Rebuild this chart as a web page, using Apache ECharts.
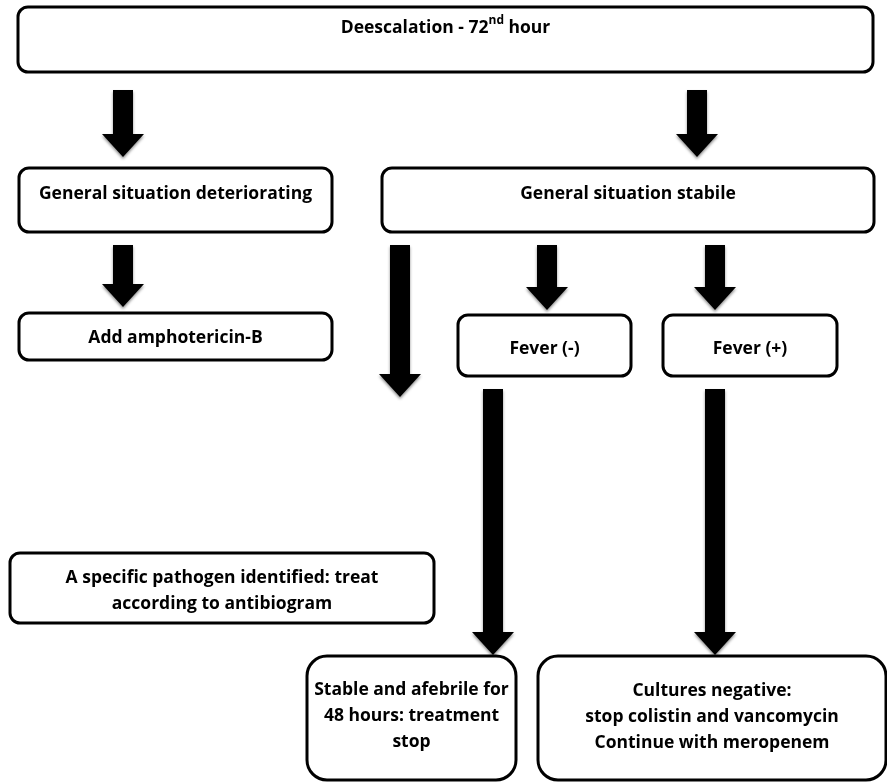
<!DOCTYPE html>
<html>
<head>
<meta charset="utf-8">
<script src="https://cdn.jsdelivr.net/npm/echarts@6/dist/echarts.min.js"></script>
<style>html,body{margin:0;padding:0;background:#fff}#c{width:887px;height:782px}</style>
</head>
<body>
<div id="c"></div>
<script>
// Flowchart content
const nodeText = [
  ['Deescalation - 72{sup|nd} hour'],
  ['General situation deteriorating'],
  ['General situation stabile'],
  ['Add amphotericin-B'],
  ['Fever (-)'],
  ['Fever (+)'],
  ['A specific pathogen identified: treat', 'according to antibiogram'],
  ['Stable and afebrile for', '48 hours: treatment', 'stop'],
  ['Cultures negative:', 'stop colistin and vancomycin', 'Continue with meropenem']
];
// layout: x0, y0, x1, y1, text centre y (in chart units)
const nodeLayout = [
  [18, 7, 873, 72, 28],
  [19, 168, 332, 232, 194],
  [382, 168, 874, 232, 194],
  [19, 313, 332, 360, 338],
  [458, 315, 631, 376, 349],
  [663, 315, 837, 376, 349],
  [10, 553, 434, 623, 591],
  [307, 656, 516, 780, 716],
  [538, 656, 886, 780, 717]
];
const nodeRadius = [10, 10, 10, 10, 10, 10, 10, 20, 20];
// arrows: x, yStart, yEnd (tip)
const arrowLinks = [
  [123, 90, 157],
  [697, 90, 157],
  [123, 245, 307],
  [400, 245, 397],
  [547, 245, 310],
  [715, 245, 310],
  [493, 389, 655],
  [715, 389, 655]
];

const FONT = '"Open Sans", "Noto Sans", sans-serif';
const chart = echarts.init(document.getElementById('c'), null, {renderer: 'canvas'});

function boxItem(params, api) {
  const i = params.dataIndex;
  const L = nodeLayout[i];
  const p0 = api.coord([L[0], L[1]]);
  const p1 = api.coord([L[2], L[3]]);
  const pt = api.coord([(L[0] + L[2]) / 2, L[4]]);
  return {
    type: 'group',
    children: [
      {
        type: 'rect',
        shape: {x: p0[0], y: p0[1], width: p1[0] - p0[0], height: p1[1] - p0[1], r: nodeRadius[i]},
        style: {fill: '#fff', stroke: '#000', lineWidth: 3}
      },
      {
        type: 'text',
        x: pt[0], y: pt[1],
        style: {
          text: nodeText[i].join('\n'),
          fill: '#000',
          fontFamily: FONT,
          fontSize: 17.5,
          fontWeight: 'bold',
          lineHeight: 26,
          align: 'center',
          verticalAlign: 'middle',
          rich: {
            sup: {fontFamily: FONT, fontSize: 12, fontWeight: 'bold', verticalAlign: 'top', fill: '#000'}
          }
        }
      }
    ]
  };
}

function arrowItem(params, api) {
  const a = arrowLinks[params.dataIndex];
  const top = api.coord([a[0], a[1]]);
  const tip = api.coord([a[0], a[2]]);
  const sw = 10, hw = 21, hl = 23;
  const x = top[0];
  const pts = [
    [x - sw, top[1]], [x + sw, top[1]], [x + sw, tip[1] - hl], [x + hw, tip[1] - hl],
    [x, tip[1]], [x - hw, tip[1] - hl], [x - sw, tip[1] - hl]
  ];
  return {
    type: 'polygon',
    shape: {points: pts},
    style: {fill: '#000', shadowBlur: 3, shadowColor: 'rgba(0,0,0,0.45)', shadowOffsetY: 2}
  };
}

chart.setOption({
  animation: false,
  backgroundColor: '#fff',
  grid: {left: 0, right: 0, top: 0, bottom: 0},
  xAxis: {type: 'value', min: 0, max: 887, show: false},
  yAxis: {type: 'value', min: 0, max: 782, inverse: true, show: false},
  series: [
    {
      type: 'custom',
      name: 'arrows',
      renderItem: arrowItem,
      data: arrowLinks.map(a => [a[0], a[1], a[2]]),
      z: 1
    },
    {
      type: 'custom',
      name: 'boxes',
      renderItem: boxItem,
      data: nodeLayout.map(l => [l[0], l[1], l[2], l[3]]),
      z: 2
    }
  ]
});
</script>
</body>
</html>
